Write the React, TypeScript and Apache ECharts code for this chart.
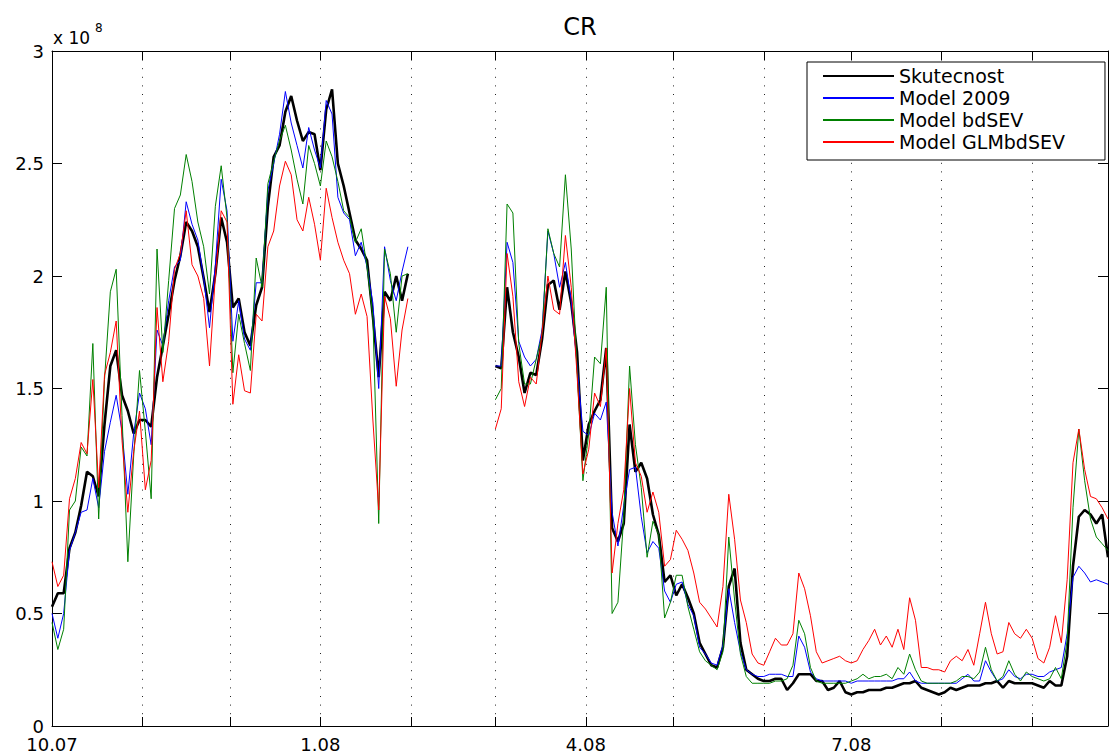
import { useEffect, useRef } from 'react';
import * as echarts from 'echarts';

// ---- time layout (days counted from 1 Oct 2007) ----
const STEP_DAYS = 2;
const SEGMENT1_START_DAY = 0; // 1.10.2007
const SEGMENT2_START_DAY = 152; // 1.3.2008
const GAP_DAY = 137; // February: no data
const AXIS_END_DAY = 362;

const monthStartDays = [0, 31, 61, 92, 123, 152, 183, 213, 244, 274, 305, 336];
const labelDays = [0, 92, 183, 274];
const labelTexts = ['10.07', '1.08', '4.08', '7.08'];

// y values are in units of 1e6 (axis shows x 10^8)
const Y_MAX = 300;
const Y_STEP = 50;

const seriesNames = ['Skutecnost', 'Model 2009', 'Model bdSEV', 'Model GLMbdSEV'];

// ---- Skutecnost ----
const skutecnost1 = [
  53, 59, 59, 79, 86, 98, 113, 111, 102, 134,
  160, 167, 147, 140, 130, 136, 136, 133, 155, 169,
  183, 198, 209, 224, 220, 213, 199, 184, 201, 226,
  215, 186,
  190, 175, 169, 187, 195, 231, 253, 258,
  273, 280, 269, 260, 264, 263, 247, 274, 283, 250,
  240, 228, 216, 212, 207, 182, 155, 193, 189, 200,
  189, 201,
];
const skutecnost2 = [
  160, 159, 195, 175, 164, 148, 157, 156, 172, 196,
  198, 185, 202, 188, 166, 118, 134, 140, 145, 168,
  88, 82, 90, 134, 113, 117, 110, 94, 85, 64,
  67, 58, 63, 57, 50, 37, 32, 27, 26, 35,
  62, 70, 37, 25, 23, 21, 20, 20, 21, 21,
  16, 19, 23, 23, 23, 20, 20, 16, 17, 20,
  15, 14, 15, 15, 16, 16, 16, 17, 17, 18,
  19, 19, 20, 17, 16, 15, 14, 15, 17, 16,
  17, 18, 18, 18, 19, 19, 20, 17, 20, 19,
  19, 19, 19, 18, 17, 20, 18, 18, 31, 71,
  93, 96, 94, 90, 94, 75,
];

// ---- Model 2009 ----
const model2009_1 = [
  50, 39, 50, 78, 86, 95, 96, 110, 97, 122,
  135, 147, 131, 103, 130, 148, 141, 125, 176, 169,
  189, 204, 207, 233, 223, 216, 199, 177, 205, 243,
  229, 171,
  189, 172, 167, 197, 197, 238, 250, 263,
  282, 268, 258, 248, 266, 256, 248, 278, 272, 235,
  228, 225, 209, 215, 204, 188, 150, 213, 198, 189,
  202, 213,
];
const model2009_2 = [
  160, 160, 215, 206, 171, 164, 160, 163, 176, 220,
  210, 195, 206, 189, 160, 131, 129, 139, 136, 144,
  95, 80, 98, 114, 115, 93, 77, 82, 79, 60,
  55, 63, 64, 54, 49, 35, 32, 28, 27, 36,
  61, 46, 33, 25, 23, 22, 22, 23, 23, 23,
  22, 22, 40, 35, 24, 21, 20, 20, 20, 20,
  20, 19, 20, 20, 20, 20, 20, 20, 20, 21,
  21, 24, 20, 19, 19, 19, 19, 19, 19, 19,
  21, 23, 20, 20, 29, 24, 20, 21, 25, 22,
  21, 23, 23, 22, 22, 24, 25, 26, 41, 66,
  71, 68, 64, 65, 64, 63,
];

// ---- Model bdSEV ----
const bdSEV1 = [
  46, 34, 43, 96, 100, 124, 120, 170, 92, 154,
  193, 203, 138, 73, 120, 158, 131, 101, 212, 166,
  198, 230, 236, 254, 242, 224, 213, 192, 231, 249,
  226, 157,
  183, 170, 158, 208, 195, 241, 251, 260,
  267, 256, 243, 232, 258, 250, 240, 260, 253, 242,
  229, 226, 215, 221, 204, 182, 90, 212, 201, 175,
  200, 201,
];
const bdSEV2 = [
  145, 150, 232, 228, 170, 152, 152, 163, 174, 221,
  210, 204, 245, 212, 158, 109, 130, 164, 161, 195,
  50, 55, 93, 160, 125, 106, 75, 91, 85, 48,
  55, 67, 67, 53, 43, 33, 29, 27, 25, 33,
  84, 56, 32, 22, 19, 19, 19, 19, 20, 20,
  21, 27, 47, 41, 26, 20, 19, 19, 19, 19,
  19, 20, 21, 23, 21, 22, 22, 23, 21, 26,
  23, 32, 25, 20, 19, 19, 19, 19, 19, 20,
  22, 22, 21, 24, 35, 25, 20, 22, 29, 23,
  20, 24, 22, 21, 20, 21, 26, 21, 38, 97,
  132, 109, 92, 84, 81, 78,
];

// ---- Model GLMbdSEV ----
const glmBdSEV1 = [
  73, 62, 67, 101, 110, 126, 121, 154, 106, 156,
  166, 180, 127, 95, 122, 140, 105, 118, 186, 153,
  171, 203, 210, 229, 205, 200, 190, 160, 200, 229,
  224, 143,
  165, 149, 148, 183, 180, 213, 220, 240,
  251, 245, 225, 220, 235, 223, 207, 239, 226, 215,
  207, 201, 183, 192, 182, 136, 96, 191, 181, 151,
  176, 190,
];
const glmBdSEV2 = [
  132, 141, 210, 191, 153, 142, 155, 152, 175, 200,
  185, 183, 218, 195, 156, 112, 123, 148, 142, 168,
  68, 90, 105, 150, 117, 111, 95, 104, 95, 71,
  74, 87, 83, 78, 68, 55, 52, 48, 44, 62,
  103, 83, 56, 46, 32, 28, 27, 33, 39, 36,
  36, 41, 68, 61, 49, 33, 28, 29, 30, 31,
  29, 28, 29, 34, 38, 43, 36, 40, 35, 43,
  34, 57, 47, 26, 26, 25, 25, 24, 29, 31,
  29, 34, 27, 41, 55, 41, 32, 33, 46, 41,
  39, 43, 39, 30, 28, 35, 49, 37, 65, 117,
  132, 114, 102, 101, 97, 92,
];

const FONT = 'DejaVu Sans';

function buildData(seg1: number[], seg2: number[]) {
  const pts: (number | string)[][] = [];
  seg1.forEach((v, i) => pts.push([SEGMENT1_START_DAY + i * STEP_DAYS, v]));
  pts.push([GAP_DAY, '-']);
  seg2.forEach((v, i) => pts.push([SEGMENT2_START_DAY + i * STEP_DAYS, v]));
  return pts;
}

export default function App() {
  const ref = useRef<HTMLDivElement>(null);

  useEffect(() => {
    if (!ref.current) return;
    const chart = echarts.init(ref.current, undefined, { renderer: 'svg' });

    const axisLine = { show: true, onZero: false, lineStyle: { color: '#000', width: 1 } };
    const tickStyle = { color: '#000', width: 1 };

    const seriesDefs = [
      { name: seriesNames[0], color: '#000000', width: 2.6, data: buildData(skutecnost1, skutecnost2) },
      { name: seriesNames[1], color: '#0000ff', width: 1, data: buildData(model2009_1, model2009_2) },
      { name: seriesNames[2], color: '#008000', width: 1, data: buildData(bdSEV1, bdSEV2) },
      { name: seriesNames[3], color: '#ff0000', width: 1, data: buildData(glmBdSEV1, glmBdSEV2) },
    ];

    const option: any = {
      animation: false,
      backgroundColor: '#ffffff',
      grid: { left: 52, right: 1, top: 51, bottom: 27, containLabel: false },
      xAxis: [
        {
          type: 'value',
          position: 'bottom',
          min: 0,
          max: AXIS_END_DAY,
          axisLine,
          axisTick: { show: true, inside: true, length: 9, customValues: monthStartDays, lineStyle: tickStyle },
          axisLabel: {
            show: true,
            customValues: labelDays,
            formatter: (v: number) => {
              const i = labelDays.indexOf(v);
              return i >= 0 ? labelTexts[i] : '';
            },
            fontSize: 18,
            fontFamily: FONT,
            color: '#000',
            margin: 10,
            lineHeight: 16,
            hideOverlap: false,
          },
          splitLine: { show: true, lineStyle: { color: '#222', width: 1, type: [1, 7.6] } },
        },
        {
          type: 'value',
          position: 'top',
          min: 0,
          max: AXIS_END_DAY,
          axisLine,
          axisTick: { show: true, inside: true, length: 9, customValues: monthStartDays, lineStyle: tickStyle },
          axisLabel: { show: false },
          splitLine: { show: false },
        },
      ],
      yAxis: [
        {
          type: 'value',
          position: 'left',
          min: 0,
          max: Y_MAX,
          interval: Y_STEP,
          axisLine,
          axisTick: { show: true, inside: true, length: 10, lineStyle: tickStyle },
          axisLabel: {
            show: true,
            formatter: (v: number) => String(v / 100),
            fontSize: 18,
            fontFamily: FONT,
            color: '#000',
            margin: 8,
            lineHeight: 14,
          },
          splitLine: { show: false },
        },
        {
          type: 'value',
          position: 'right',
          min: 0,
          max: Y_MAX,
          interval: Y_STEP,
          axisLine,
          axisTick: { show: true, inside: true, length: 10, lineStyle: tickStyle },
          axisLabel: { show: false },
          splitLine: { show: false },
        },
      ],
      legend: {
        orient: 'vertical',
        left: 807,
        top: 62,
        itemWidth: 71,
        itemHeight: 14,
        itemGap: 0,
        padding: [3, 40, 7, 15],
        borderColor: '#000',
        borderWidth: 1,
        backgroundColor: '#fff',
        selectedMode: false,
        data: seriesNames,
        itemStyle: { opacity: 0, color: 'transparent', borderColor: 'transparent', borderWidth: 0 },
        textStyle: { fontSize: 19, fontFamily: FONT, color: '#000', lineHeight: 22 },
      },
      graphic: [
        {
          type: 'text',
          x: 580,
          y: 27,
          style: {
            text: 'CR',
            fontSize: 24,
            fontFamily: FONT,
            fill: '#000',
            align: 'center',
            verticalAlign: 'middle',
            textAlign: 'center',
            textVerticalAlign: 'middle',
          },
        },
        {
          type: 'text',
          x: 53,
          y: 38,
          style: {
            text: 'x 10',
            fontSize: 17,
            fontFamily: FONT,
            fill: '#000',
            verticalAlign: 'middle',
            textVerticalAlign: 'middle',
          },
        },
        {
          type: 'text',
          x: 95,
          y: 28,
          style: {
            text: '8',
            fontSize: 12,
            fontFamily: FONT,
            fill: '#000',
            verticalAlign: 'middle',
            textVerticalAlign: 'middle',
          },
        },
      ],
      series: seriesDefs.map((s) => ({
        name: s.name,
        type: 'line',
        xAxisIndex: 0,
        yAxisIndex: 0,
        data: s.data,
        symbol: 'none',
        showSymbol: false,
        connectNulls: false,
        color: s.color,
        lineStyle: { color: s.color, width: s.width },
        emphasis: { disabled: true },
      })),
    };

    chart.setOption(option);
    return () => chart.dispose();
  }, []);

  return (
    <div
      ref={ref}
      style={{ position: 'absolute', left: 0, top: 0, width: 1109, height: 753, background: '#fff' }}
    />
  );
}
